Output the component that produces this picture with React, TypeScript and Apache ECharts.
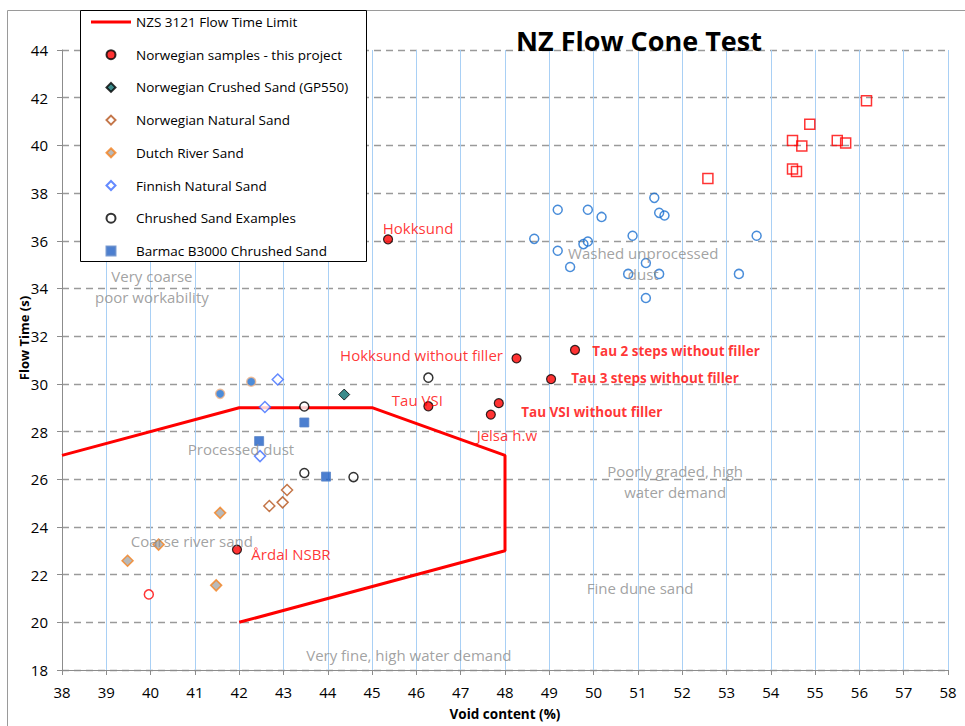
import React, { useEffect, useRef } from "react";
import * as echarts from "echarts";

const FONT = "'Open Sans', 'Noto Sans', sans-serif";

// Axis ranges / ticks
const xRange = [38, 58];
const xStep = 1;
const yRange = [18, 44];
const yStep = 2;

// NZS 3121 flow time limit polygon
const limitLine = [
  [38, 27], [42, 29], [45, 29], [48, 27], [48, 23], [42, 20],
];

// Norwegian samples - this project (named)
const norwegianNames = [
  "Hokksund",
  "Hokksund without filler",
  "Tau VSI",
  "Jelsa h.w",
  "Tau VSI without filler",
  "Tau 2 steps without filler",
  "Tau 3 steps without filler",
  "Årdal NSBR",
];
const norwegianValues = [
  [45.36, 36.06],
  [48.26, 31.07],
  [46.27, 29.06],
  [47.68, 28.71],
  [47.86, 29.19],
  [49.58, 31.42],
  [49.04, 30.2],
  [41.95, 23.05],
];

const gp550 = [[44.37, 29.55]];
const norwegianNatural = [[43.08, 25.55], [42.98, 25.03], [42.68, 24.88]];
const dutchRiver = [[41.57, 24.59], [40.18, 23.26], [39.48, 22.58], [41.48, 21.55]];
const finnishNatural = [[42.87, 30.18], [42.58, 29.03], [42.47, 26.97]];
const crushedExamples = [[43.47, 29.05], [43.47, 26.26], [44.58, 26.09], [46.27, 30.26]];
const barmac = [[43.47, 28.38], [42.45, 27.6], [43.96, 26.11]];

// Unlabelled series (not in legend)
const washedDust = [
  [48.66, 36.08], [49.19, 37.3], [49.87, 37.3], [50.18, 37.0], [51.37, 37.8],
  [51.48, 37.17], [51.6, 37.06], [50.88, 36.21], [53.68, 36.21], [49.19, 35.58],
  [49.77, 35.86], [49.87, 35.97], [49.47, 34.9], [51.18, 35.07], [50.78, 34.61],
  [51.48, 34.61], [53.28, 34.61], [51.18, 33.6],
];
const redSquares = [
  [56.16, 41.87], [54.88, 40.89], [54.49, 40.21], [54.7, 39.97], [55.5, 40.21],
  [55.69, 40.1], [54.49, 39.01], [54.58, 38.9], [52.58, 38.61],
];
const redOpenCircle = [[39.96, 21.17]];
const orangeRingDots = [[41.57, 29.58], [42.27, 30.09]];

// Region annotations (data coordinates)
const regionNames = [
  "Very coarse\npoor workability",
  "Washed unprocessed\ndust",
  "Processed dust",
  "Poorly graded, high\nwater demand",
  "Coarse river sand",
  "Fine dune sand",
  "Very fine, high water demand",
];
const regionCoords = [
  [40.03, 34.07],
  [51.12, 35.03],
  [42.04, 27.28],
  [51.84, 25.92],
  [40.93, 23.39],
  [51.05, 21.42],
  [45.83, 18.62],
];

const legendNames = [
  "NZS 3121 Flow Time Limit",
  "Norwegian samples - this project",
  "Norwegian Crushed Sand (GP550)",
  "Norwegian Natural Sand",
  "Dutch River Sand",
  "Finnish Natural Sand",
  "Chrushed Sand Examples",
  "Barmac B3000 Chrushed Sand",
];

const ICON_LINE = "path://M0,0H40V3H0Z";
const ICON_CIRCLE = "path://M0,5a5,5 0 1,0 10,0a5,5 0 1,0 -10,0Z";
const ICON_DIAMOND = "path://M5,0L10,5L5,10L0,5Z";
const ICON_SQUARE = "path://M0,0H10V10H0Z";
const legendIcons = [
  ICON_LINE, ICON_CIRCLE, ICON_DIAMOND, ICON_DIAMOND, ICON_DIAMOND, ICON_DIAMOND, ICON_CIRCLE, ICON_SQUARE,
];

// label styling for named points (offset of text centre from point, px)
const labelOffsets: Record<string, number[]> = {
  "Hokksund": [30, -11],
  "Hokksund without filler": [-95, -3],
  "Tau VSI": [-11, -6],
  "Jelsa h.w": [16, 20],
  "Tau VSI without filler": [93, 9],
  "Tau 2 steps without filler": [101, 1],
  "Tau 3 steps without filler": [104, -1],
  "Årdal NSBR": [54, 4],
};
const boldLabels = ["Tau VSI without filler", "Tau 2 steps without filler", "Tau 3 steps without filler"];

function scatter(name: string, data: any[], symbol: string, size: number, itemStyle: any) {
  return { type: "scatter", name, data, symbol, symbolSize: size, itemStyle, z: 3 };
}

function buildOption(): any {
  return {
    animation: false,
    textStyle: { fontFamily: FONT },
    grid: { left: 62, right: 17, top: 50, bottom: 54, containLabel: false },
    xAxis: {
      type: "value",
      min: xRange[0],
      max: xRange[1],
      interval: xStep,
      name: "Void content (%)",
      nameLocation: "middle",
      nameGap: 37,
      nameTextStyle: { fontWeight: "bold", fontSize: 13.5, color: "#000", fontFamily: FONT },
      axisLine: { show: true, onZero: false, lineStyle: { color: "#8c8c8c" } },
      axisTick: { show: true, length: 5, lineStyle: { color: "#8c8c8c" } },
      axisLabel: { color: "#000", fontSize: 15, margin: 14, fontFamily: FONT },
      splitLine: { show: true, lineStyle: { color: "#a9d0f5", width: 1 } },
    },
    yAxis: {
      type: "value",
      min: yRange[0],
      max: yRange[1],
      interval: yStep,
      name: "Flow Time (s)",
      nameLocation: "middle",
      nameGap: 32,
      nameRotate: 90,
      nameMoveOverlap: false,
      nameTextStyle: {
        fontWeight: "bold",
        fontSize: 13,
        color: "#000",
        fontFamily: FONT,
        padding: [0, 0, 0, 44],
      },
      axisLine: { show: true, onZero: false, lineStyle: { color: "#8c8c8c" } },
      axisTick: { show: true, length: 5, lineStyle: { color: "#8c8c8c" } },
      axisLabel: { color: "#000", fontSize: 15, margin: 14, fontFamily: FONT },
      splitLine: { show: true, lineStyle: { color: "#9a9a9a", width: 1.3, type: [7, 5] } },
    },
    legend: {
      orient: "vertical",
      left: 81,
      top: 10,
      padding: [4, 0, 0, 10],
      itemWidth: 40,
      itemHeight: 9,
      itemGap: 16.7,
      z: 20,
      symbolKeepAspect: true,
      data: legendNames.map((n, i) => ({ name: n, icon: legendIcons[i] })),
      textStyle: { fontFamily: FONT, fontSize: 13.5, color: "#000", lineHeight: 16 },
      selectedMode: false,
    },
    graphic: [
      {
        type: "rect",
        z: 0,
        silent: true,
        shape: { x: 7.5, y: 10.5, width: 2000, height: 2000 },
        style: { fill: "none", stroke: "#9a9a9a", lineWidth: 1 },
      },
      {
        type: "rect",
        z: 15,
        silent: true,
        shape: { x: 80.5, y: 10.5, width: 286, height: 251 },
        style: { fill: "#fff", stroke: "#000", lineWidth: 1 },
      },
      {
        type: "text",
        z: 15,
        x: 639,
        y: 40,
        style: {
          text: "NZ Flow Cone Test",
          fontFamily: FONT,
          fontWeight: "bold",
          fontSize: 27,
          fill: "#000",
          textAlign: "center",
          textVerticalAlign: "middle",
          align: "center",
          verticalAlign: "middle",
        },
      },
    ],
    series: [
      {
        type: "line",
        name: legendNames[0],
        data: limitLine,
        symbol: "none",
        lineStyle: { color: "#ff0000", width: 3 },
        itemStyle: { color: "#ff0000" },
        z: 2,
      },
      {
        type: "scatter",
        name: legendNames[1],
        symbol: "circle",
        symbolSize: 9,
        z: 4,
        itemStyle: { color: "#ff0000", borderColor: "#000", borderWidth: 1.2 },
        data: norwegianNames.map((n, i) => ({
          name: n,
          value: norwegianValues[i],
          label: {
            show: true,
            formatter: n,
            position: "inside",
            offset: labelOffsets[n],
            color: "#ff0000",
            fontFamily: FONT,
            fontSize: boldLabels.includes(n) ? 13.5 : 15,
            fontWeight: boldLabels.includes(n) ? "bold" : "normal",
          },
        })),
      },
      scatter(legendNames[2], gp550, "diamond", 11, { color: "#0b6e6e", borderColor: "#000", borderWidth: 1 }),
      scatter(legendNames[3], norwegianNatural, "diamond", 11, { color: "#fff", borderColor: "#b5541c", borderWidth: 1.5 }),
      scatter(legendNames[4], dutchRiver, "diamond", 11, { color: "#a8a8a8", borderColor: "#f5821f", borderWidth: 1.5 }),
      scatter(legendNames[5], finnishNatural, "diamond", 11, { color: "#fff", borderColor: "#3d6dff", borderWidth: 1.5 }),
      scatter(legendNames[6], crushedExamples, "circle", 9, { color: "#fff", borderColor: "#000", borderWidth: 1.5 }),
      scatter(legendNames[7], barmac, "rect", 9, { color: "#1f5fc4", borderColor: "#5a84c8", borderWidth: 1 }),
      scatter("Washed dust", washedDust, "circle", 9, { color: "rgba(255,255,255,0)", borderColor: "#1a6fd0", borderWidth: 1.5 }),
      scatter("Red squares", redSquares, "rect", 10, { color: "rgba(255,255,255,0)", borderColor: "#ff0000", borderWidth: 1.5 }),
      scatter("Red open", redOpenCircle, "circle", 9, { color: "#fff", borderColor: "#ff0000", borderWidth: 1.5 }),
      scatter("Ring dots", orangeRingDots, "circle", 9, { color: "#1f6fcf", borderColor: "#f5b78a", borderWidth: 1.5 }),
      {
        type: "scatter",
        name: "Regions",
        silent: true,
        symbolSize: 1,
        z: 5,
        itemStyle: { color: "rgba(0,0,0,0)" },
        data: regionNames.map((n, i) => ({ name: n, value: regionCoords[i] })),
        label: {
          show: true,
          position: "inside",
          formatter: (p: any) => p.name,
          color: "#8a8a8a",
          fontFamily: FONT,
          fontSize: 15,
          lineHeight: 21,
          align: "center",
        },
      },
    ],
  };
}

export default function App() {
  const ref = useRef<HTMLDivElement>(null);
  useEffect(() => {
    if (!ref.current) return;
    const chart = echarts.init(ref.current, null, { renderer: "svg" });
    chart.setOption(buildOption());
    return () => chart.dispose();
  }, []);
  return (
    <div
      ref={ref}
      style={{ position: "absolute", left: 0, top: 0, width: 965, height: 726, background: "#fff" }}
    />
  );
}
